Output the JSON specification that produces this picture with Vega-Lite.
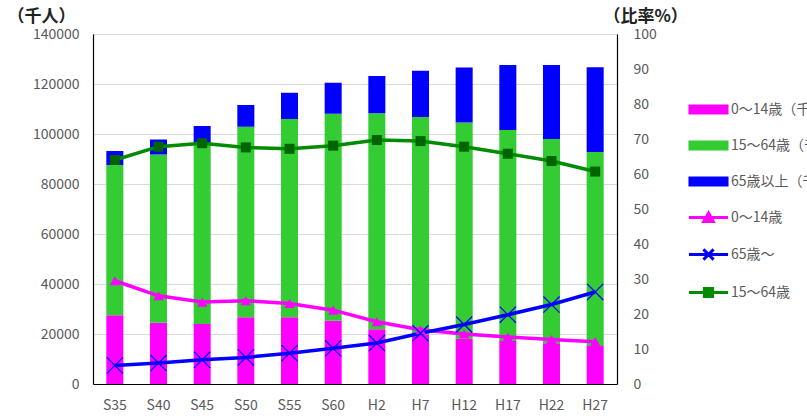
{
  "$schema": "https://vega.github.io/schema/vega-lite/v6.json",
  "width": 524,
  "height": 350,
  "autosize": {"type": "none"},
  "padding": {"left": 93, "top": 34, "right": 190, "bottom": 35},
  "background": "white",
  "config": {
    "font": "Noto Sans CJK JP",
    "view": {"stroke": null},
    "axis": {"labelColor": "#595959", "labelFontSize": 14, "ticks": false, "domainColor": "#000000", "domainWidth": 1.2}
  },
  "datasets": {
    "bars": [
      {"year": "S35", "group": "0～14歳（千人）", "value": 27500},
      {"year": "S35", "group": "15～64歳（千人）", "value": 60100},
      {"year": "S35", "group": "65歳以上（千人）", "value": 5600},
      {"year": "S40", "group": "0～14歳（千人）", "value": 24500},
      {"year": "S40", "group": "15～64歳（千人）", "value": 67300},
      {"year": "S40", "group": "65歳以上（千人）", "value": 6000},
      {"year": "S45", "group": "0～14歳（千人）", "value": 24000},
      {"year": "S45", "group": "15～64歳（千人）", "value": 72000},
      {"year": "S45", "group": "65歳以上（千人）", "value": 7200},
      {"year": "S50", "group": "0～14歳（千人）", "value": 26700},
      {"year": "S50", "group": "15～64歳（千人）", "value": 76200},
      {"year": "S50", "group": "65歳以上（千人）", "value": 8700},
      {"year": "S55", "group": "0～14歳（千人）", "value": 26700},
      {"year": "S55", "group": "15～64歳（千人）", "value": 79300},
      {"year": "S55", "group": "65歳以上（千人）", "value": 10500},
      {"year": "S60", "group": "0～14歳（千人）", "value": 25300},
      {"year": "S60", "group": "15～64歳（千人）", "value": 82800},
      {"year": "S60", "group": "65歳以上（千人）", "value": 12400},
      {"year": "H2", "group": "0～14歳（千人）", "value": 21900},
      {"year": "H2", "group": "15～64歳（千人）", "value": 86400},
      {"year": "H2", "group": "65歳以上（千人）", "value": 14900},
      {"year": "H7", "group": "0～14歳（千人）", "value": 19900},
      {"year": "H7", "group": "15～64歳（千人）", "value": 86900},
      {"year": "H7", "group": "65歳以上（千人）", "value": 18500},
      {"year": "H12", "group": "0～14歳（千人）", "value": 18100},
      {"year": "H12", "group": "15～64歳（千人）", "value": 86500},
      {"year": "H12", "group": "65歳以上（千人）", "value": 22000},
      {"year": "H17", "group": "0～14歳（千人）", "value": 17200},
      {"year": "H17", "group": "15～64歳（千人）", "value": 84400},
      {"year": "H17", "group": "65歳以上（千人）", "value": 26000},
      {"year": "H22", "group": "0～14歳（千人）", "value": 16300},
      {"year": "H22", "group": "15～64歳（千人）", "value": 81700},
      {"year": "H22", "group": "65歳以上（千人）", "value": 29600},
      {"year": "H27", "group": "0～14歳（千人）", "value": 15200},
      {"year": "H27", "group": "15～64歳（千人）", "value": 77600},
      {"year": "H27", "group": "65歳以上（千人）", "value": 33900}
    ],
    "ratios": [
      {"year": "S35", "series": "0～14歳", "ratio": 29.5},
      {"year": "S40", "series": "0～14歳", "ratio": 25.2},
      {"year": "S45", "series": "0～14歳", "ratio": 23.4},
      {"year": "S50", "series": "0～14歳", "ratio": 23.8},
      {"year": "S55", "series": "0～14歳", "ratio": 23.0},
      {"year": "S60", "series": "0～14歳", "ratio": 21.1},
      {"year": "H2", "series": "0～14歳", "ratio": 17.8},
      {"year": "H7", "series": "0～14歳", "ratio": 15.5},
      {"year": "H12", "series": "0～14歳", "ratio": 14.3},
      {"year": "H17", "series": "0～14歳", "ratio": 13.4},
      {"year": "H22", "series": "0～14歳", "ratio": 12.7},
      {"year": "H27", "series": "0～14歳", "ratio": 12.1},
      {"year": "S35", "series": "65歳～", "ratio": 5.3},
      {"year": "S40", "series": "65歳～", "ratio": 6.0},
      {"year": "S45", "series": "65歳～", "ratio": 6.9},
      {"year": "S50", "series": "65歳～", "ratio": 7.6},
      {"year": "S55", "series": "65歳～", "ratio": 8.8},
      {"year": "S60", "series": "65歳～", "ratio": 10.2},
      {"year": "H2", "series": "65歳～", "ratio": 11.7},
      {"year": "H7", "series": "65歳～", "ratio": 14.5},
      {"year": "H12", "series": "65歳～", "ratio": 17.0},
      {"year": "H17", "series": "65歳～", "ratio": 19.8},
      {"year": "H22", "series": "65歳～", "ratio": 22.7},
      {"year": "H27", "series": "65歳～", "ratio": 26.3},
      {"year": "S35", "series": "15～64歳", "ratio": 64.0},
      {"year": "S40", "series": "15～64歳", "ratio": 67.8},
      {"year": "S45", "series": "15～64歳", "ratio": 68.8},
      {"year": "S50", "series": "15～64歳", "ratio": 67.6},
      {"year": "S55", "series": "15～64歳", "ratio": 67.2},
      {"year": "S60", "series": "15～64歳", "ratio": 68.1},
      {"year": "H2", "series": "15～64歳", "ratio": 69.7},
      {"year": "H7", "series": "15～64歳", "ratio": 69.4},
      {"year": "H12", "series": "15～64歳", "ratio": 67.8},
      {"year": "H17", "series": "15～64歳", "ratio": 65.8},
      {"year": "H22", "series": "15～64歳", "ratio": 63.7},
      {"year": "H27", "series": "15～64歳", "ratio": 60.7}
    ]
  },
  "encoding": {
    "x": {
      "field": "year",
      "type": "nominal",
      "scale": {
        "domain": ["S35", "S40", "S45", "S50", "S55", "S60", "H2", "H7", "H12", "H17", "H22", "H27"],
        "paddingInner": 0.61,
        "paddingOuter": 0.305
      },
      "axis": {"title": null, "labelAngle": 0, "labelPadding": 14, "labelFontSize": 14}
    }
  },
  "layer": [
    {
      "data": {"name": "bars"},
      "mark": {"type": "bar"},
      "encoding": {
        "y": {
          "field": "value",
          "type": "quantitative",
          "stack": "zero",
          "scale": {"domain": [0, 140000], "nice": false},
          "axis": {
            "values": [0, 20000, 40000, 60000, 80000, 100000, 120000, 140000],
            "format": "d",
            "grid": true,
            "gridColor": "#d9d9d9",
            "gridWidth": 1.2,
            "labelPadding": 14,
            "title": "（千人）",
            "titleAngle": 0,
            "titleAlign": "left",
            "titleBaseline": "middle",
            "titleX": -86,
            "titleY": -18,
            "titleFontSize": 17,
            "titleFontWeight": "bold",
            "titleColor": "#222222"
          }
        },
        "order": {"field": "group", "sort": "ascending"},
        "color": {
          "field": "group",
          "type": "nominal",
          "scale": {
            "domain": ["0～14歳（千人）", "15～64歳（千人）", "65歳以上（千人）", "0～14歳", "65歳～", "15～64歳"],
            "range": ["#ff00ff", "#33cc33", "#0000ff", "#ff00ff", "#0000ff", "#008c00"]
          },
          "legend": {
            "title": null,
            "orient": "none",
            "legendX": 597,
            "legendY": 57,
            "padding": 0,
            "symbolSize": 1156,
            "symbolStrokeWidth": 3,
            "rowPadding": 8,
            "labelOffset": 4,
            "labelFontSize": 14,
            "labelColor": "#595959",
            "labelLimit": 300,
            "encode": {
              "symbols": {
                "update": {
                  "shape": {"signal": "datum.index < 3 ? 'M-1.09,-0.2H1.09V0.2H-1.09Z' : datum.index == 3 ? 'M-1.15,0H1.15M-0.28,0.24L0,-0.26L0.28,0.24Z' : datum.index == 4 ? 'M-1.15,0H1.15M-0.3,-0.3L0.3,0.3M-0.3,0.3L0.3,-0.3' : 'M-1.15,0H1.15M-0.24,-0.24H0.24V0.24H-0.24Z'"},
                  "fill": {"signal": "datum.index == 5 ? '#006400' : datum.index == 4 ? 'transparent' : scale('color', datum.value)"},
                  "stroke": {"signal": "scale('color', datum.value)"},
                  "opacity": {"value": 1},
                  "fillOpacity": {"value": 1}
                }
              }
            }
          }
        }
      }
    },
    {
      "data": {"name": "ratios"},
      "encoding": {
        "y": {
          "field": "ratio",
          "type": "quantitative",
          "scale": {"domain": [0, 100], "nice": false},
          "axis": {
            "orient": "right",
            "values": [0, 10, 20, 30, 40, 50, 60, 70, 80, 90, 100],
            "grid": false,
            "labelPadding": 16,
            "title": "（比率%）",
            "titleAngle": 0,
            "titleAlign": "left",
            "titleBaseline": "middle",
            "titleX": -14,
            "titleY": -18,
            "titleFontSize": 17,
            "titleFontWeight": "bold",
            "titleColor": "#222222"
          }
        }
      },
      "layer": [
        {
          "mark": {"type": "line", "strokeWidth": 3.5},
          "encoding": {
            "color": {"field": "series", "type": "nominal"}
          }
        },
        {
          "transform": [{"filter": {"field": "series", "equal": "0～14歳"}}],
          "mark": {"type": "point", "shape": "triangle-up", "filled": true, "size": 110, "color": "#ff00ff", "opacity": 1},
          "encoding": {}
        },
        {
          "transform": [{"filter": {"field": "series", "equal": "65歳～"}}],
          "mark": {"type": "point", "shape": "M-1,-1L1,1M-1,1L1,-1", "filled": false, "size": 260, "stroke": "#0000ff", "strokeWidth": 1.3, "opacity": 1},
          "encoding": {}
        },
        {
          "transform": [{"filter": {"field": "series", "equal": "15～64歳"}}],
          "mark": {"type": "point", "shape": "square", "filled": true, "size": 100, "color": "#006400", "opacity": 1},
          "encoding": {}
        }
      ]
    }
  ],
  "resolve": {"scale": {"y": "independent"}}
}
